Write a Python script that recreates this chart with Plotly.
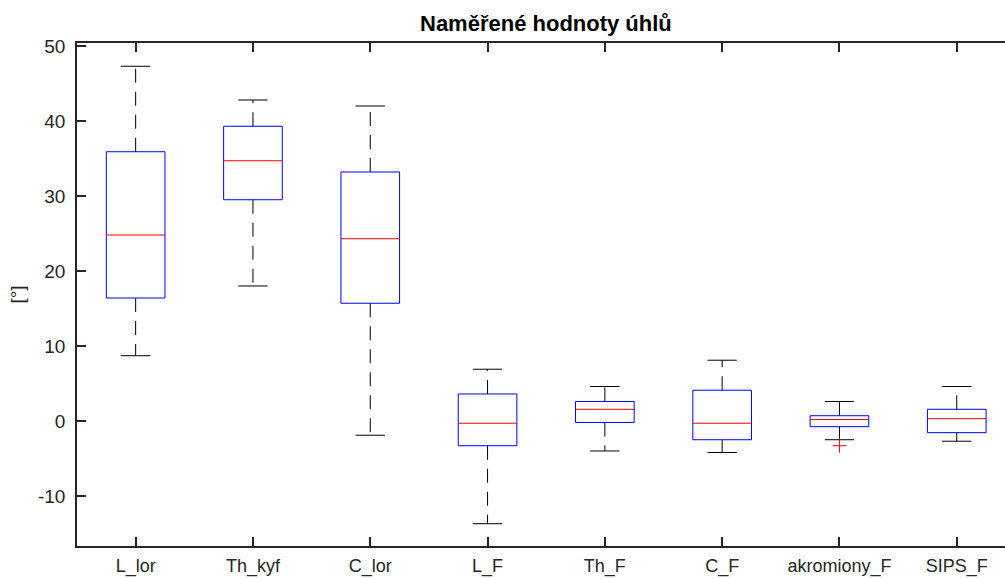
import plotly.graph_objects as go

categories = ["L_lor", "Th_kyf", "C_lor", "L_F", "Th_F", "C_F", "akromiony_F", "SIPS_F"]
lower_whisker = [8.7, 18.0, -1.9, -13.7, -4.0, -4.2, -2.5, -2.7]
q1 = [16.4, 29.5, 15.7, -3.3, -0.2, -2.5, -0.76, -1.56]
median = [24.8, 34.7, 24.3, -0.3, 1.56, -0.3, 0.2, 0.3]
q3 = [35.9, 39.3, 33.2, 3.6, 2.6, 4.1, 0.7, 1.56]
upper_whisker = [47.3, 42.8, 42.0, 6.9, 4.6, 8.1, 2.6, 4.6]
outlier_cat = ["akromiony_F"]
outlier_val = [-3.3]
yticks = [-10, 0, 10, 20, 30, 40, 50]
ytick_labels = ["-10", "0", "10", "20", "30", "40", "50"]

box_half = 0.25
cap_half = 0.125
font = "Liberation Sans, Arial, sans-serif"

fig = go.Figure()
for i, c in enumerate(categories):
    p = i + 1
    fig.add_trace(go.Scatter(x=[p, p, None, p, p], y=[q3[i], upper_whisker[i], None, q1[i], lower_whisker[i]],
                             mode="lines", line=dict(color="black", width=1, dash="14px,9px"),
                             hoverinfo="skip", showlegend=False))
    fig.add_trace(go.Scatter(x=[p - cap_half, p + cap_half, None, p - cap_half, p + cap_half],
                             y=[upper_whisker[i], upper_whisker[i], None, lower_whisker[i], lower_whisker[i]],
                             mode="lines", line=dict(color="black", width=1),
                             hoverinfo="skip", showlegend=False))
    fig.add_trace(go.Scatter(x=[p - box_half, p + box_half, p + box_half, p - box_half, p - box_half],
                             y=[q1[i], q1[i], q3[i], q3[i], q1[i]],
                             mode="lines", line=dict(color="#0000FF", width=1),
                             hoverinfo="skip", showlegend=False))
    fig.add_trace(go.Scatter(x=[p - box_half, p + box_half], y=[median[i], median[i]],
                             mode="lines", line=dict(color="#FF0000", width=1),
                             hoverinfo="skip", showlegend=False))

fig.add_trace(go.Scatter(x=[categories.index(c) + 1 for c in outlier_cat], y=outlier_val,
                         mode="markers",
                         marker=dict(symbol="cross-thin", size=10, line=dict(color="#FF0000", width=1)),
                         hoverinfo="skip", showlegend=False))

fig.update_layout(
    width=1005, height=579,
    margin=dict(l=77, r=0, t=43, b=33, autoexpand=False),
    plot_bgcolor="white", paper_bgcolor="white",
    font=dict(family=font, size=19, color="#262626"),
    annotations=[dict(text="<b>Naměřené hodnoty úhlů</b>", xref="paper", yref="paper",
                      x=(546 - 77) / 928, y=1, yshift=5, xanchor="center", yanchor="bottom",
                      showarrow=False, font=dict(family=font, size=22, color="black"))],
)
fig.update_xaxes(range=[0.5, 0.5 + 928 / 117.3], tickvals=list(range(1, 9)), ticktext=categories,
                 tickfont=dict(family=font, size=18, color="#262626"), automargin=False,
                 showline=True, linecolor="#262626", linewidth=1.5, mirror="ticks",
                 ticks="inside", ticklen=9, tickwidth=1.5, tickcolor="#262626",
                 showgrid=False, zeroline=False, ticklabelstandoff=3)
fig.update_yaxes(range=[-16.67, 50.4], tickvals=yticks, ticktext=ytick_labels,
                 tickfont=dict(family=font, size=19, color="#262626"), automargin=False,
                 showline=True, linecolor="#262626", linewidth=1.5, mirror=False,
                 ticks="inside", ticklen=9, tickwidth=1.5, tickcolor="#262626",
                 showgrid=False, zeroline=False, ticklabelstandoff=6,
                 title=dict(text="[°]", standoff=8, font=dict(family=font, size=19, color="#262626")))

fig.write_html("out.html")
